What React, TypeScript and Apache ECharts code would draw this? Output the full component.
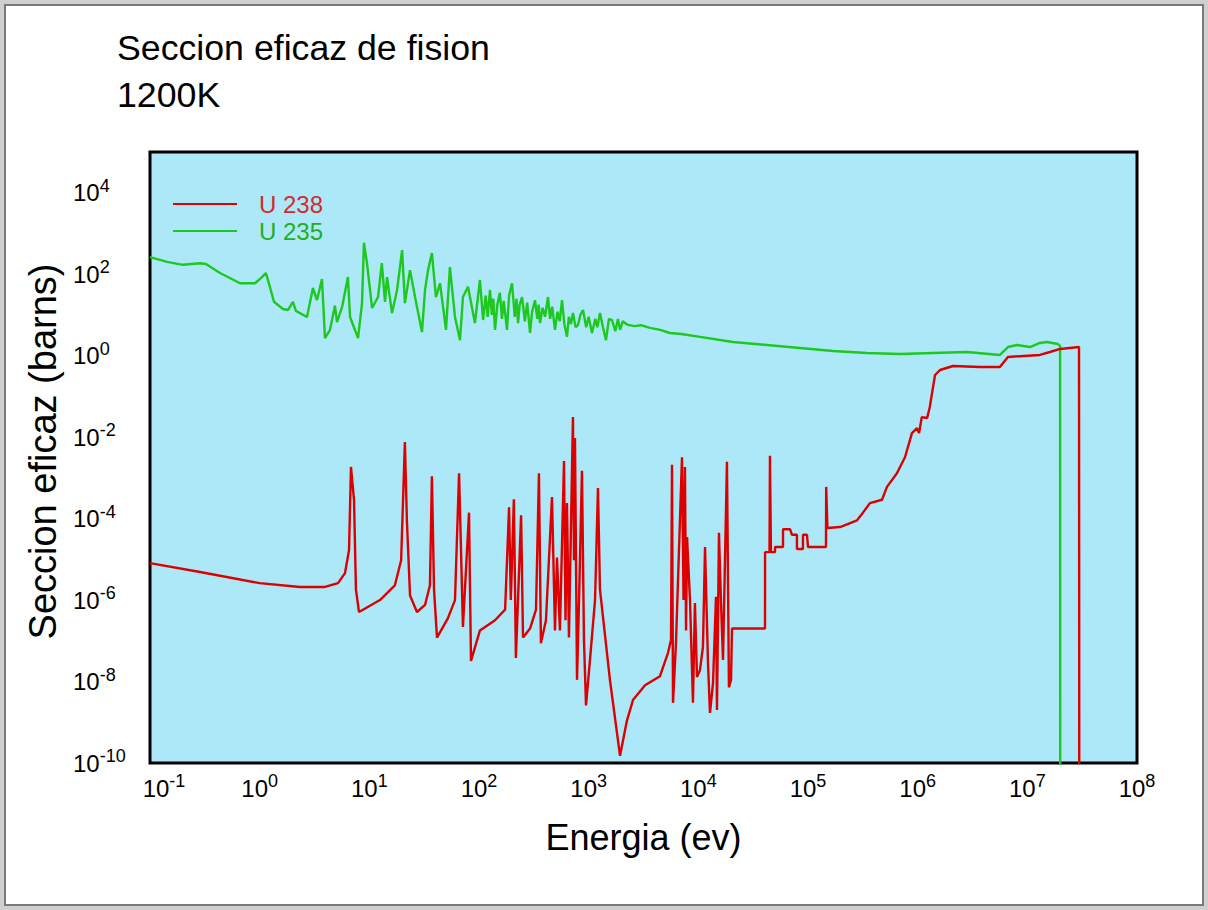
import React, { useEffect, useRef } from 'react';
import * as echarts from 'echarts';

const titleText = 'Seccion eficaz de fision\n1200K';
const xAxisTitle = 'Energia (ev)';
const yAxisTitle = 'Seccion eficaz (barns)';
const seriesNames = ['U 238', 'U 235'];

// [energy (eV), cross section (barns)]
const u238: [number, number][] = [
  [0.1, 8.1e-6], [0.286, 4.9e-6], [1.0, 2.6e-6], [2.33, 2.1e-6], [3.94, 2.1e-6], [5.18, 2.6e-6],
  [6.0, 4.6e-6], [6.53, 1.7e-5], [6.8, 1.85e-3], [7.25, 2.9e-4], [7.55, 1.8e-6], [8.05, 5.1e-7],
  [12.5, 1.0e-6], [17.1, 2.3e-6], [19.5, 9.5e-6], [21.1, 7.6e-3], [22.0, 9.1e-5], [23.5, 1.3e-6],
  [27.2, 5.1e-7], [32.2, 7.6e-7], [35.7, 2.3e-6], [37.2, 1.1e-3], [38.9, 1.8e-6], [41.4, 1.2e-7],
  [52.1, 3.6e-7], [60.4, 1.0e-6], [65.8, 1.3e-3], [71.4, 2.2e-7], [81.1, 1.4e-4], [84.5, 3.2e-8],
  [102, 1.8e-7], [140, 3.2e-7], [173, 5.8e-7], [188, 1.9e-4], [195, 1.0e-6], [208, 3.0e-4],
  [217, 3.8e-8], [242, 1.2e-4], [252, 1.2e-7], [292, 2.0e-7], [331, 5.8e-7], [352, 1.3e-3],
  [367, 8.7e-8], [408, 3.2e-7], [463, 3.4e-4], [493, 1.8e-7], [514, 1.1e-5], [547, 1.8e-7],
  [596, 2.6e-3], [615, 3.2e-7], [634, 2.4e-4], [661, 1.2e-7], [719, 3.1e-2], [735, 9.5e-6],
  [750, 9.5e-3], [783, 1.1e-8], [817, 1.0e-6], [869, 1.5e-3], [906, 1.05e-7], [946, 2.6e-9],
  [1028, 3.4e-8], [1143, 1.0e-6], [1216, 5.6e-4], [1268, 1.8e-6], [1563, 1.1e-8], [1932, 1.5e-10],
  [2234, 1.1e-9], [2535, 3.5e-9], [3266, 8.1e-9], [4467, 1.35e-8], [5284, 5.0e-8], [5636, 1.05e-7],
  [5754, 2.1e-3], [5875, 3.0e-9], [6252, 8.7e-8], [7096, 3.2e-3], [7328, 1.0e-6], [7551, 1.85e-3],
  [7727, 1.8e-7], [7889, 3.5e-5], [8395, 1.0e-6], [8933, 3.0e-9], [9311, 8.5e-7], [9720, 1.3e-8],
  [10350, 1.9e-8], [11020, 7.1e-8], [11510, 2.0e-5], [12250, 2.8e-8], [12770, 1.7e-9], [13610, 9.1e-9],
  [14490, 1.2e-6], [14790, 2.0e-9], [15420, 4.5e-5], [16100, 8.5e-7], [16790, 3.4e-8], [18240, 2.5e-3],
  [19010, 7.2e-9], [19860, 1.1e-8], [20280, 2.0e-7], [40550, 2.0e-7], [40600, 1.5e-5], [44570, 1.5e-5],
  [45000, 3.5e-3], [45920, 1.5e-5], [50000, 1.5e-5], [50050, 2.0e-5], [59160, 2.0e-5], [59200, 5.5e-5],
  [68550, 5.5e-5], [71450, 4.0e-5], [79250, 4.0e-5], [79300, 1.8e-5], [89950, 1.8e-5], [90000, 4.0e-5],
  [97900, 4.0e-5], [100000, 2.0e-5], [145900, 2.0e-5], [146500, 6.0e-4], [150300, 5.9e-5], [195900, 6.2e-5],
  [280000, 9.1e-5], [317000, 1.4e-4], [367000, 2.4e-4], [473000, 2.9e-4], [525000, 6.0e-4], [647000, 1.3e-3],
  [766000, 3.2e-3], [887000, 1.26e-2], [986000, 1.66e-2], [1.03e6, 1.26e-2], [1.09e6, 3.1e-2], [1.22e6, 2.95e-2],
  [1.29e6, 5.5e-2], [1.44e6, 0.335], [1.6e6, 0.445], [2.1e6, 0.557], [3.7e6, 0.526], [5.62e6, 0.526],
  [6.65e6, 0.93], [1.3e7, 1.04], [1.61e7, 1.23], [1.99e7, 1.46], [2.96e7, 1.63], [2.97e7, 6.8e-7],
  [2.975e7, 1e-12],
];

const u235: [number, number][] = [
  [0.1, 263], [0.143, 200], [0.2, 170], [0.286, 186], [0.324, 178], [0.435, 107], [0.662, 60],
  [0.906, 60], [1.05, 85], [1.14, 107], [1.24, 49], [1.35, 21], [1.63, 14], [1.81, 13.2], [2.01, 21],
  [2.14, 12.6], [2.7, 8.9], [3.06, 46], [3.33, 23], [3.7, 76], [3.94, 2.7], [4.38, 4.3], [4.86, 17],
  [5.07, 6.7], [5.64, 15.5], [6.38, 85], [6.67, 8.9], [7.89, 2.7], [8.58, 19.5], [8.93, 590],
  [9.52, 186], [10.6, 14.8], [12.0, 27.5], [13.0, 186], [13.9, 21], [14.5, 85], [16.1, 11.1],
  [17.9, 41], [19.9, 390], [21.1, 19.5], [23.5, 126], [26.1, 27.5], [30.2, 3.8], [32.2, 41],
  [34.3, 126], [37.2, 331], [40.5, 27.5], [44.1, 60], [50.0, 4.3], [54.3, 150], [60.4, 8.9],
  [67.1, 2.4], [71.4, 27.5], [79.4, 49], [91.8, 6.3], [102, 72], [109, 7.5], [115, 30], [120, 9],
  [126, 41], [131, 10], [135, 25], [140, 4.3], [147, 18], [155, 35], [162, 8], [168, 22], [180, 4.3],
  [188, 30], [200, 60], [212, 9], [220, 25], [227, 6.3], [235, 18], [247, 27.5], [262, 7], [275, 20],
  [292, 3.6], [305, 12], [324, 23], [340, 8], [350, 18], [360, 6.3], [380, 15], [400, 9], [426, 27.5],
  [445, 8], [465, 16], [493, 4.3], [520, 12], [545, 7], [571, 23], [600, 6], [634, 2.9], [660, 9],
  [690, 6], [719, 11.1], [760, 5], [800, 5.7], [840, 10], [888, 13.2], [950, 5], [1000, 9], [1072, 3.6],
  [1150, 8], [1200, 5], [1268, 11.1], [1350, 5], [1439, 2.4], [1530, 8], [1633, 7.5], [1750, 4],
  [1850, 8], [1932, 4.3], [2050, 7], [2143, 6.3], [2281, 5.7], [2600, 5.3], [3000, 5.6], [3622, 4.8],
  [4500, 4.3], [5508, 3.6], [7000, 3.4], [10350, 2.9], [20700, 2.16], [42270, 1.83], [84500, 1.54],
  [169000, 1.3], [345000, 1.16], [690000, 1.1], [1.38e6, 1.16], [2.82e6, 1.23], [5.62e6, 1.04],
  [6.65e6, 1.63], [8.04e6, 1.83], [1.06e7, 1.63], [1.3e7, 2.05], [1.51e7, 2.16], [1.9e7, 1.93],
  [1.99e7, 1.73], [1.995e7, 1e-12],
];

const FONT = '"Liberation Sans", Arial, Helvetica, sans-serif';
const RED = '#dd0000';
const GREEN = '#1ec81e';

const richPow = {
  b: { fontSize: 24, lineHeight: 24, padding: [0, 0, 0, 0], color: '#000', fontFamily: FONT },
  bf: { fontSize: 24, lineHeight: 24, padding: [0, 0, 0, 28], color: '#000', fontFamily: FONT },
  s: { fontSize: 18, lineHeight: 18, padding: [0, 0, 14, 0], color: '#000', fontFamily: FONT },
};

function powLabel(v: number, maxExp: number, shiftFirst: boolean) {
  const e = Math.round(Math.log10(v));
  if (e > maxExp) return '';
  const base = shiftFirst && e === -1 ? 'bf' : 'b';
  return `{${base}|10}{s|${e}}`;
}

export default function App() {
  const ref = useRef<HTMLDivElement>(null);
  useEffect(() => {
    if (!ref.current) return;
    const chart = echarts.init(ref.current, null, { renderer: 'svg' });
    chart.setOption({
      animation: false,
      backgroundColor: '#ffffff',
      graphic: [
        { type: 'rect', shape: { x: 0, y: 0, width: 1208, height: 910 }, style: { fill: '#cfcfcf' }, z: -10 },
        { type: 'rect', shape: { x: 5, y: 5, width: 1198, height: 900 }, style: { fill: '#ffffff', stroke: '#7a7a7a', lineWidth: 2 }, z: -9 },
      ],
      title: {
        text: titleText,
        left: 117,
        top: 24,
        padding: 0,
        textStyle: { fontFamily: FONT, fontSize: 35.7, fontWeight: 'normal', color: '#000', lineHeight: 47 },
      },
      legend: {
        orient: 'vertical',
        left: 173,
        top: 192,
        padding: 0,
        icon: 'rect',
        itemWidth: 64,
        itemHeight: 2,
        itemGap: 3,
        textStyle: { fontFamily: FONT, fontSize: 24, lineHeight: 22, padding: [0, 0, 0, 17] },
        data: [
          { name: seriesNames[0], textStyle: { color: '#d42a2a' } },
          { name: seriesNames[1], textStyle: { color: '#22b022' } },
        ],
      },
      grid: {
        left: 150,
        top: 152,
        width: 987,
        height: 611,
        show: true,
        backgroundColor: '#ade8f8',
        borderColor: '#000',
        borderWidth: 3,
      },
      xAxis: {
        type: 'log',
        logBase: 10,
        min: 0.1,
        max: 1e8,
        interval: 1,
        name: xAxisTitle,
        nameLocation: 'middle',
        nameGap: 56,
        nameTextStyle: { fontFamily: FONT, fontSize: 36, color: '#000' },
        axisLine: { show: false },
        axisTick: { show: false },
        splitLine: { show: false },
        axisLabel: {
          margin: 13,
          formatter: (v: number) => powLabel(v, 8, true),
          rich: richPow,
        },
      },
      yAxis: {
        type: 'log',
        logBase: 10,
        min: 1e-10,
        max: 1e5,
        interval: 2,
        name: yAxisTitle,
        nameLocation: 'middle',
        nameGap: 83,
        nameRotate: 90,
        nameTextStyle: { fontFamily: FONT, fontSize: 38, color: '#000', padding: [0, 0, 0, 12] },
        axisLine: { show: false },
        axisTick: { show: false },
        splitLine: { show: false },
        axisLabel: {
          align: 'left',
          margin: 77,
          formatter: (v: number) => powLabel(v, 4, false),
          rich: richPow,
        },
      },
      series: [
        {
          name: seriesNames[0],
          type: 'line',
          data: u238,
          symbol: 'none',
          color: RED,
          lineStyle: { width: 2.4, color: RED },
          z: 3,
        },
        {
          name: seriesNames[1],
          type: 'line',
          data: u235,
          symbol: 'none',
          color: GREEN,
          lineStyle: { width: 2.4, color: GREEN },
          z: 2,
        },
      ],
    });
    return () => chart.dispose();
  }, []);
  return <div ref={ref} style={{ position: 'absolute', left: 0, top: 0, width: 1208, height: 910 }} />;
}
